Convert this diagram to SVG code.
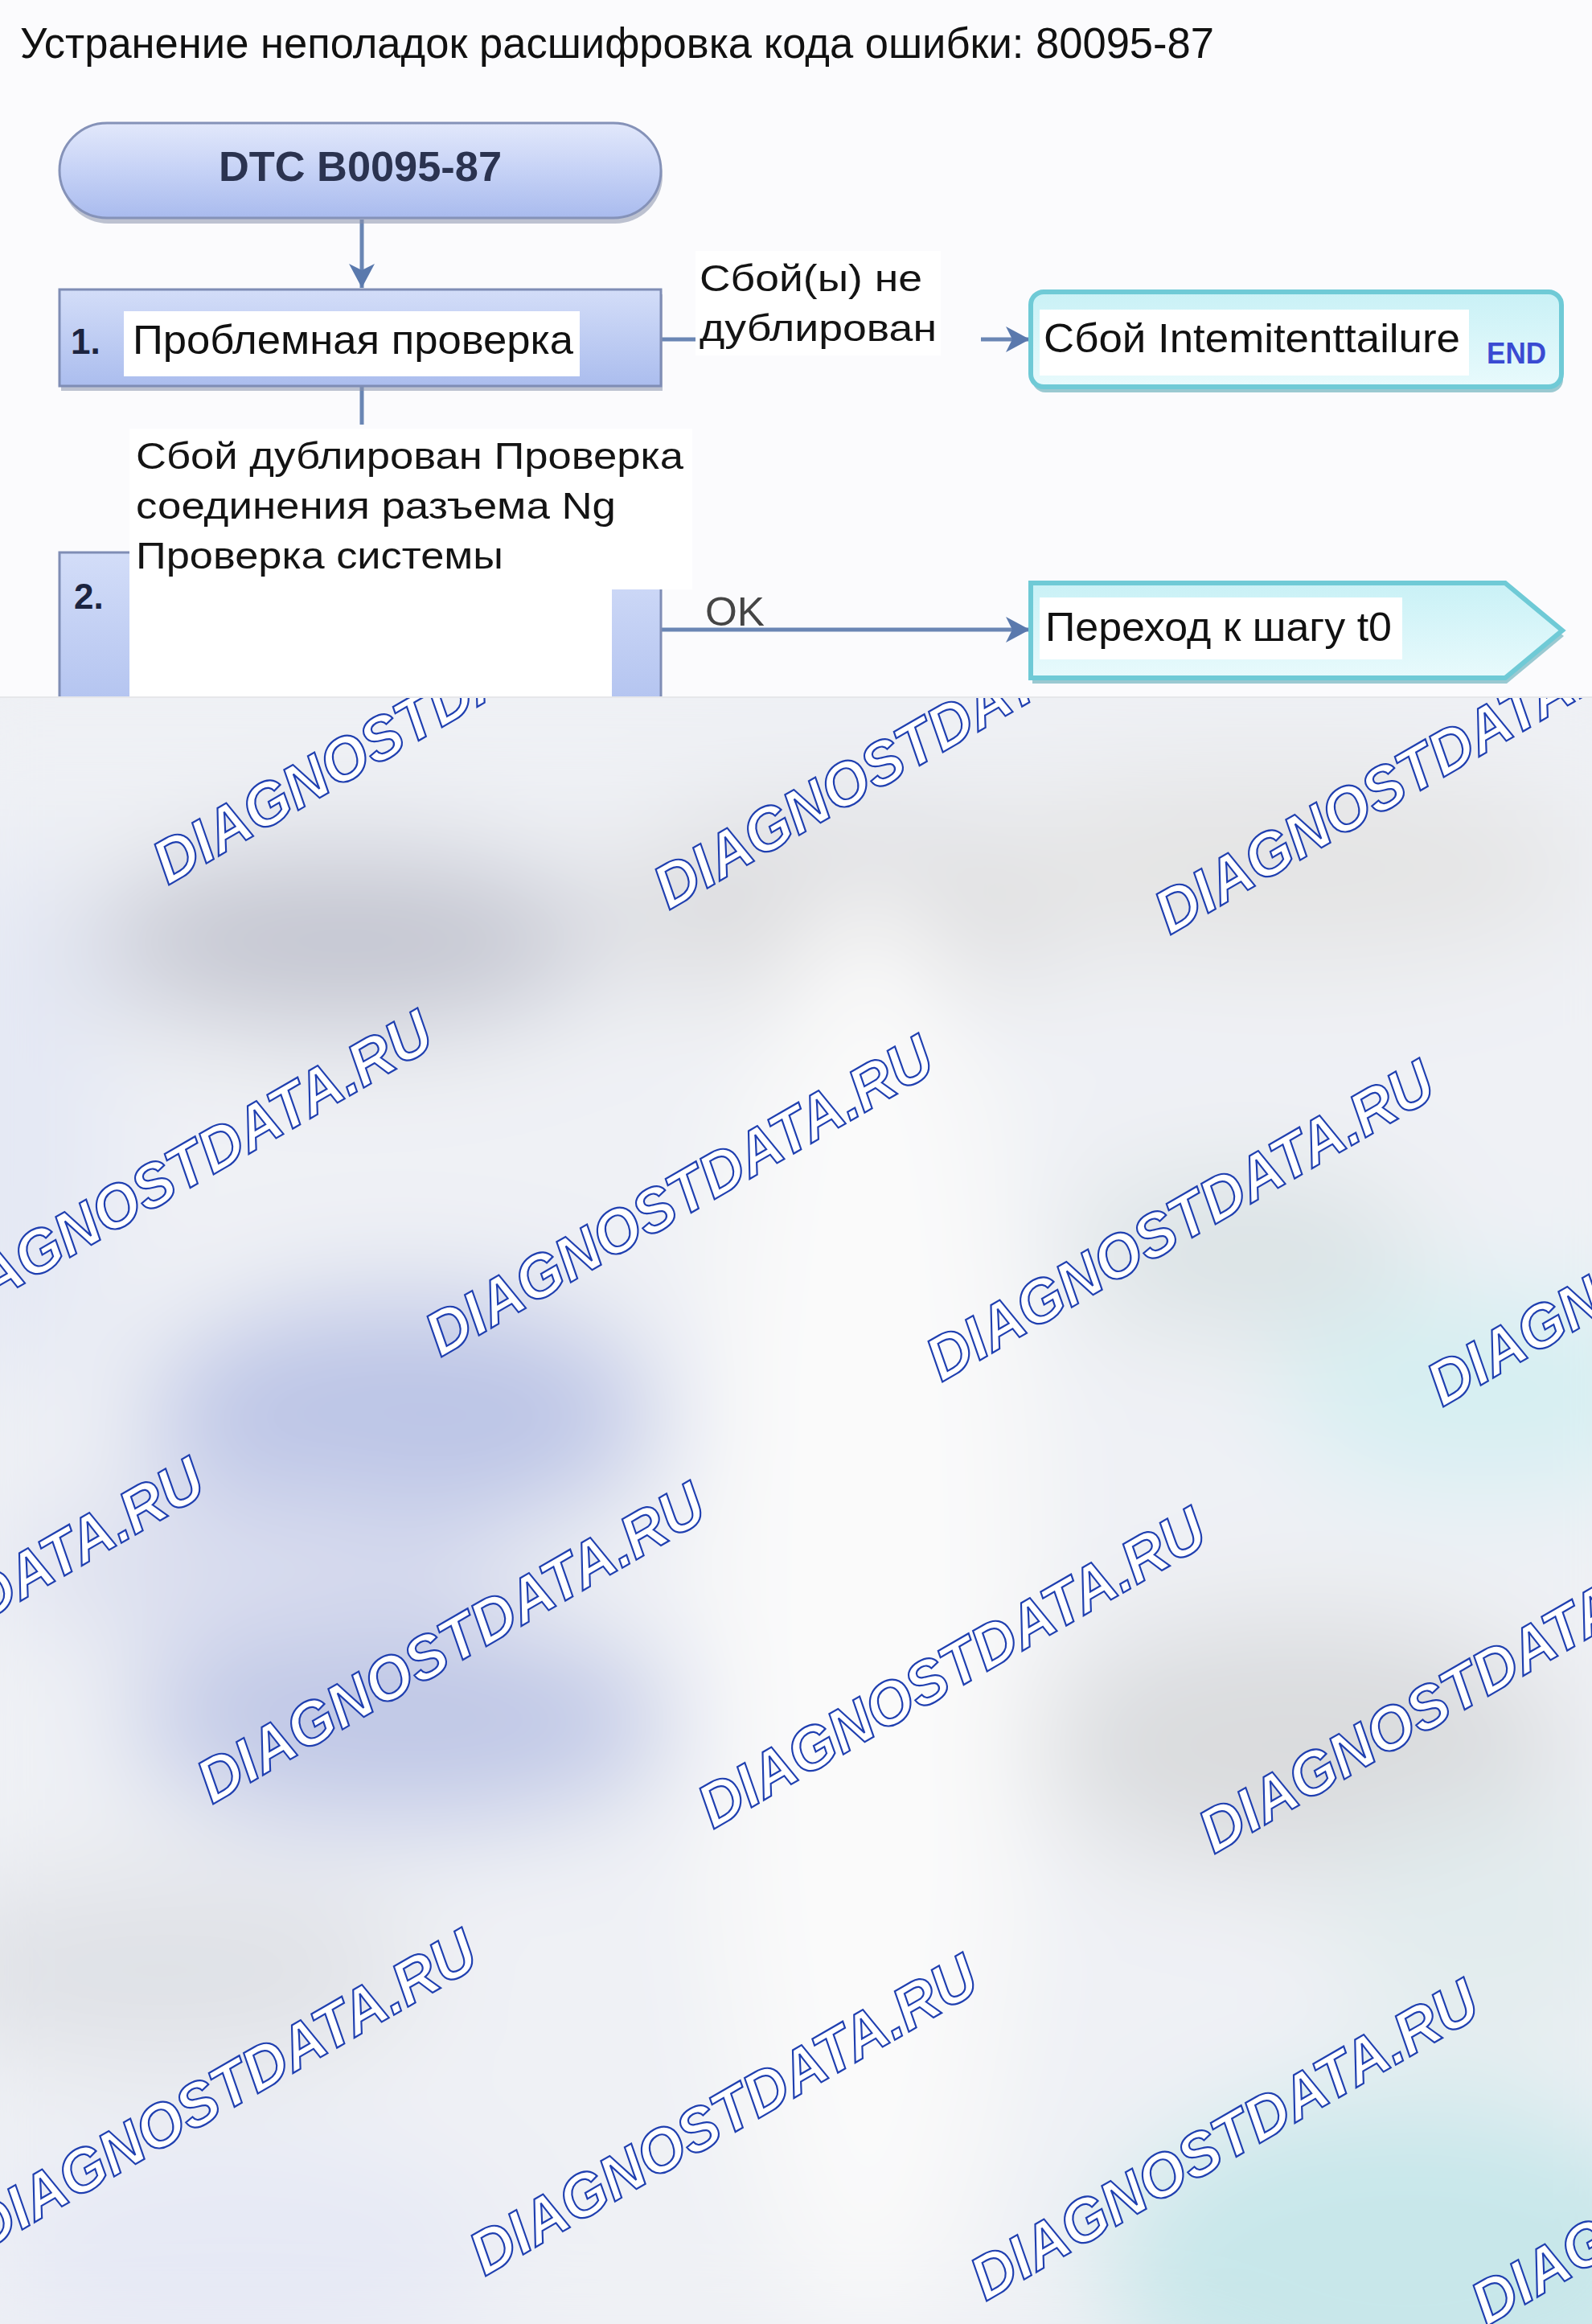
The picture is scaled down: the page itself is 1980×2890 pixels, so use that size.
<svg xmlns="http://www.w3.org/2000/svg" width="1980" height="2890" viewBox="0 0 1980 2890">
<defs>
<style>
text{font-family:"Liberation Sans",Arial,sans-serif;}
.t{fill:#111;font-size:50px;}
.lbl{fill:#141414;font-size:46px;}
.num{fill:#1c2440;font-size:44px;font-weight:bold;}
.wm{font-size:76px;font-weight:bold;font-style:italic;fill:#ffffff;stroke:#1f3fb0;stroke-width:2.2px;}
.conn{stroke:#6a86b4;stroke-width:5;fill:none;}
.step{fill:url(#boxGrad);stroke:#7f8db5;stroke-width:3;}
.cyan{fill:url(#cyanGrad);stroke:#6fcad6;stroke-width:6;}
.shadow{fill:#8892ab;opacity:0.55;}
.cshadow{fill:#5aa9b4;opacity:0.6;}
</style>
<linearGradient id="pillGrad" x1="0" y1="0" x2="0" y2="1">
<stop offset="0" stop-color="#e2e8fb"/>
<stop offset="0.5" stop-color="#c6d2f6"/>
<stop offset="1" stop-color="#a9bbee"/>
</linearGradient>
<linearGradient id="boxGrad" x1="0" y1="0" x2="0" y2="1">
<stop offset="0" stop-color="#d3ddf8"/>
<stop offset="1" stop-color="#abbdee"/>
</linearGradient>
<linearGradient id="cyanGrad" x1="0" y1="0" x2="0" y2="1">
<stop offset="0" stop-color="#c9f1f6"/>
<stop offset="1" stop-color="#e8fafc"/>
</linearGradient>
<marker id="arrBig" markerWidth="30" markerHeight="32" refX="30" refY="16" orient="auto" markerUnits="userSpaceOnUse" viewBox="0 0 30 32">
<path d="M0,0 L30,16 L0,32 L8,16 Z" fill="#5a79ad"/>
</marker>
<filter id="blur" x="-20%" y="-20%" width="140%" height="140%">
<feGaussianBlur stdDeviation="70"/>
</filter>
<clipPath id="sheet">
<rect x="0" y="0" width="1980" height="866"/>
</clipPath>
</defs>

<!-- blurred background (lower part) -->
<rect x="0" y="0" width="1980" height="2890" fill="#eef0f4"/>
<g id="background" filter="url(#blur)">
<rect x="-100" y="860" width="2200" height="2100" fill="#eff1f5"/>
<ellipse cx="430" cy="1170" rx="320" ry="110" fill="#c3c5d0"/>
<ellipse cx="1050" cy="1130" rx="300" ry="120" fill="#dcdcde"/>
<ellipse cx="1600" cy="1080" rx="380" ry="120" fill="#e4e4e4"/>
<ellipse cx="1550" cy="1560" rx="220" ry="100" fill="#dae2e4"/>
<ellipse cx="20" cy="1400" rx="120" ry="350" fill="#e4e8f4"/>
<ellipse cx="500" cy="1760" rx="320" ry="150" fill="#bcc5e6"/>
<ellipse cx="500" cy="2140" rx="340" ry="130" fill="#bfc7e6"/>
<ellipse cx="300" cy="1950" rx="300" ry="90" fill="#dadeef"/>
<ellipse cx="1080" cy="2000" rx="200" ry="900" fill="#fafafa"/>
<ellipse cx="1850" cy="1730" rx="260" ry="130" fill="#d6eff2"/>
<ellipse cx="1620" cy="2170" rx="330" ry="160" fill="#dadcde"/>
<ellipse cx="1850" cy="2400" rx="200" ry="150" fill="#e2ecee"/>
<ellipse cx="1750" cy="2820" rx="380" ry="220" fill="#c8e7ea"/>
<ellipse cx="200" cy="2450" rx="320" ry="120" fill="#dfe1e6"/>
<ellipse cx="300" cy="2800" rx="320" ry="140" fill="#e6e9f5"/>
</g>

<g id="watermarks">
<text class="wm" textLength="715" lengthAdjust="spacingAndGlyphs" transform="translate(209,1101) rotate(-30)">DIAGNOSTDATA.RU</text>
<text class="wm" textLength="715" lengthAdjust="spacingAndGlyphs" transform="translate(832,1132) rotate(-30)">DIAGNOSTDATA.RU</text>
<text class="wm" textLength="715" lengthAdjust="spacingAndGlyphs" transform="translate(1455,1163) rotate(-30)">DIAGNOSTDATA.RU</text>
<text class="wm" textLength="715" lengthAdjust="spacingAndGlyphs" transform="translate(-75,1657) rotate(-30)">DIAGNOSTDATA.RU</text>
<text class="wm" textLength="715" lengthAdjust="spacingAndGlyphs" transform="translate(548,1688) rotate(-30)">DIAGNOSTDATA.RU</text>
<text class="wm" textLength="715" lengthAdjust="spacingAndGlyphs" transform="translate(1171,1719) rotate(-30)">DIAGNOSTDATA.RU</text>
<text class="wm" textLength="715" lengthAdjust="spacingAndGlyphs" transform="translate(1794,1750) rotate(-30)">DIAGNOSTDATA.RU</text>
<text class="wm" textLength="715" lengthAdjust="spacingAndGlyphs" transform="translate(-359,2213) rotate(-30)">DIAGNOSTDATA.RU</text>
<text class="wm" textLength="715" lengthAdjust="spacingAndGlyphs" transform="translate(264,2244) rotate(-30)">DIAGNOSTDATA.RU</text>
<text class="wm" textLength="715" lengthAdjust="spacingAndGlyphs" transform="translate(887,2275) rotate(-30)">DIAGNOSTDATA.RU</text>
<text class="wm" textLength="715" lengthAdjust="spacingAndGlyphs" transform="translate(1510,2306) rotate(-30)">DIAGNOSTDATA.RU</text>
<text class="wm" textLength="715" lengthAdjust="spacingAndGlyphs" transform="translate(-20,2800) rotate(-30)">DIAGNOSTDATA.RU</text>
<text class="wm" textLength="715" lengthAdjust="spacingAndGlyphs" transform="translate(603,2831) rotate(-30)">DIAGNOSTDATA.RU</text>
<text class="wm" textLength="715" lengthAdjust="spacingAndGlyphs" transform="translate(1226,2862) rotate(-30)">DIAGNOSTDATA.RU</text>
<text class="wm" textLength="715" lengthAdjust="spacingAndGlyphs" transform="translate(1849,2893) rotate(-30)">DIAGNOSTDATA.RU</text>
</g>

<!-- diagram sheet (upper part) -->
<rect x="0" y="0" width="1980" height="866" fill="#fbfbfd"/>
<line x1="0" y1="867" x2="1980" y2="867" stroke="#e6e7ea" stroke-width="2"/>

<text id="title" x="25" y="72" font-size="54" fill="#111" textLength="1485" lengthAdjust="spacingAndGlyphs">Устранение неполадок расшифровка кода ошибки: 80095-87</text>

<g id="connectors">
<line class="conn" x1="450" y1="273" x2="450" y2="358" marker-end="url(#arrBig)"/>
<line class="conn" x1="450" y1="480" x2="450" y2="528"/>
<line class="conn" x1="822" y1="422" x2="872" y2="422" stroke="#8a9cc4"/>
<line class="conn" x1="1220" y1="422" x2="1281" y2="422" stroke="#8a9cc4" marker-end="url(#arrBig)"/>
<line class="conn" x1="822" y1="783" x2="1281" y2="783" stroke="#7c93bc" marker-end="url(#arrBig)"/>
<rect x="865" y="312" width="305" height="130" fill="#ffffff"/>
<text class="lbl" x="870" y="362" textLength="277" lengthAdjust="spacingAndGlyphs">Сбой(ы) не</text>
<text class="lbl" x="870" y="424" textLength="295" lengthAdjust="spacingAndGlyphs">дублирован</text>
<text x="877" y="778" font-size="50" fill="#454545" textLength="74" lengthAdjust="spacingAndGlyphs">OK</text>
</g>

<g id="node-start">
<rect class="shadow" x="76" y="160" width="748" height="118" rx="59"/>
<rect x="74" y="153" width="748" height="118" rx="59" fill="url(#pillGrad)" stroke="#8592b8" stroke-width="3"/>
<text x="448" y="225" text-anchor="middle" font-size="52" font-weight="bold" fill="#2b3350" textLength="352" lengthAdjust="spacingAndGlyphs">DTC B0095-87</text>
</g>

<g id="node-step1">
<rect class="shadow" x="76" y="366" width="748" height="120"/>
<rect class="step" x="74" y="360" width="748" height="120"/>
<rect x="154" y="387" width="567" height="81" fill="#ffffff"/>
<text class="num" x="88" y="440">1.</text>
<text class="t" x="165" y="440" font-size="48" textLength="548" lengthAdjust="spacingAndGlyphs">Проблемная проверка</text>
</g>

<g id="node-step2" clip-path="url(#sheet)">
<rect class="step" x="74" y="687" width="748" height="240"/>
<rect x="161" y="700" width="600" height="200" fill="#ffffff"/>
<text class="num" x="92" y="757">2.</text>
</g>

<g id="label-step2">
<rect x="161" y="533" width="700" height="200" fill="#ffffff"/>
<text class="lbl" x="169" y="583" textLength="681" lengthAdjust="spacingAndGlyphs">Сбой дублирован Проверка</text>
<text class="lbl" x="169" y="645" textLength="597" lengthAdjust="spacingAndGlyphs">соединения разъема Ng</text>
<text class="lbl" x="169" y="707" textLength="457" lengthAdjust="spacingAndGlyphs">Проверка системы</text>
</g>

<g id="node-end">
<rect class="cshadow" x="1284" y="370" width="660" height="118" rx="16"/>
<rect class="cyan" x="1282" y="363" width="660" height="118" rx="16"/>
<rect x="1293" y="385" width="534" height="82" fill="#ffffff"/>
<text class="t" x="1298" y="438" textLength="518" lengthAdjust="spacingAndGlyphs">Сбой Intemitenttailure</text>
<text x="1849" y="452" font-size="36" font-weight="bold" fill="#3a4bd2" textLength="74" lengthAdjust="spacingAndGlyphs">END</text>
</g>

<g id="node-goto">
<path class="cshadow" d="M1284,732 L1874,732 L1945,791 L1874,850 L1284,850 Z"/>
<path class="cyan" d="M1282,725 L1872,725 L1943,784 L1872,843 L1282,843 Z"/>
<rect x="1293" y="743" width="451" height="77" fill="#ffffff"/>
<text class="t" x="1300" y="797" textLength="431" lengthAdjust="spacingAndGlyphs">Переход к шагу t0</text>
</g>
</svg>
